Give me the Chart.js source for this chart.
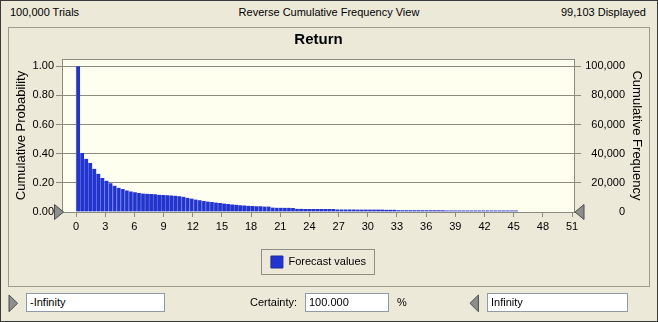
<!DOCTYPE html>
<html><head><meta charset="utf-8">
<script src="https://cdn.jsdelivr.net/npm/chart.js@4.4.1/dist/chart.umd.min.js"></script>
<style>
html,body{margin:0;padding:0;}
body{position:relative;width:658px;height:322px;overflow:hidden;background:#ECE9D8;font-family:"Liberation Sans",Arial,sans-serif;font-size:11px;color:#000;}
#frame{position:absolute;left:0;top:0;width:656px;height:320px;border:1px solid #3a3a3a;}
.t{position:absolute;font-size:11px;line-height:13px;white-space:nowrap;}
#panel{position:absolute;left:8px;top:27px;width:640px;height:258px;border:1px solid #9d9b90;}
#c{position:absolute;left:0;top:0;}
.box{position:absolute;top:293px;height:17px;background:#fff;border:1px solid #8f9aa6;font-size:11px;line-height:17px;padding-left:3px;box-sizing:content-box;}
svg{position:absolute;left:0;top:0;}
</style></head>
<body>
<div id="frame"></div>
<div class="t" style="left:10px;top:6px;">100,000 Trials</div>
<div class="t" style="left:0;width:658px;text-align:center;top:6px;">Reverse Cumulative Frequency View</div>
<div class="t" style="right:12px;top:6px;">99,103 Displayed</div>
<div id="panel"><canvas id="c" width="640" height="258"></canvas></div>
<svg width="658" height="322">
<polygon points="9,295 17.6,303.3 9,311.7" fill="#8e8e8e" stroke="#4a4a4a" stroke-width="1"/>
<polygon points="478.4,295 470,303.3 478.4,311.7" fill="#8e8e8e" stroke="#4a4a4a" stroke-width="1"/>
</svg>
<div class="box" style="left:26px;width:134px;">-Infinity</div>
<div class="t" style="left:250px;top:296px;">Certainty:</div>
<div class="box" style="left:305px;width:79px;">100.000</div>
<div class="t" style="left:397px;top:296px;">%</div>
<div class="box" style="left:487px;width:136px;">Infinity</div>
<script>
// ---- data ----
const TITLE = 'Return';
const SERIES_NAME = 'Forecast values';
const BIN_WIDTH = 50 / 120;           // width of each histogram bin (in Return units)
const TOTAL_TRIALS = 100000;
const probability = [
  1.000, 0.405, 0.365, 0.336, 0.296, 0.262, 0.234, 0.215, 0.198, 0.181,
  0.166, 0.157, 0.148, 0.141, 0.135, 0.130, 0.127, 0.125, 0.123, 0.121,
  0.118, 0.116, 0.115, 0.114, 0.112, 0.108, 0.104, 0.098, 0.092, 0.086,
  0.080, 0.076, 0.072, 0.068, 0.065, 0.062, 0.058, 0.055, 0.052, 0.049,
  0.047, 0.045, 0.043, 0.041, 0.040, 0.039, 0.038, 0.037, 0.031, 0.030,
  0.030, 0.029, 0.029, 0.028, 0.022, 0.022, 0.021, 0.021, 0.021, 0.021,
  0.020, 0.020, 0.020, 0.020, 0.018, 0.018, 0.018, 0.018, 0.018, 0.017,
  0.017, 0.017, 0.017, 0.017, 0.017, 0.017, 0.016, 0.016, 0.016, 0.012,
  0.012, 0.012, 0.012, 0.012, 0.012, 0.012, 0.012, 0.012, 0.012, 0.012,
  0.012, 0.011, 0.011, 0.011, 0.011, 0.011, 0.011, 0.011, 0.011, 0.011,
  0.011, 0.011, 0.011, 0.011, 0.011, 0.011, 0.011, 0.011, 0.011, 0.004,
  0.004, 0.004, 0.004, 0.004, 0.004, 0.004, 0.004, 0.004, 0.004, 0.000
];
const xTicks = [0, 3, 6, 9, 12, 15, 18, 21, 24, 27, 30, 33, 36, 39, 42, 45, 48, 51];
const probTicks = [0, 0.2, 0.4, 0.6, 0.8, 1.0];
const freqTicks = [0, 20000, 40000, 60000, 80000, 100000];

// ---- chart ----
const FONT = '"Liberation Sans", Arial, sans-serif';
const GRID = '#8c8c7e';
const points = probability.map((p, i) => ({x: (i + 0.5) * BIN_WIDTH, y: p}));

const decor = {
  id: 'decor',
  afterLayout(chart) {
    const a = chart.chartArea;
    if (chart.titleBlock) { chart.titleBlock.left = a.left; chart.titleBlock.right = a.right; }
    if (chart.legend) { chart.legend.left = a.left; chart.legend.right = a.right; }
  },
  beforeDraw(chart) {
    const {ctx, chartArea: a} = chart;
    ctx.save();
    ctx.fillStyle = '#FFFFF0';
    ctx.fillRect(a.left, a.top, a.right - a.left, a.bottom - a.top);
    ctx.restore();
  },
  afterDatasetsDraw(chart) {
    const {ctx, chartArea: a} = chart;
    ctx.save();
    ctx.strokeStyle = GRID; ctx.lineWidth = 1;
    ctx.strokeRect(Math.round(a.left) - 0.5, Math.round(a.top) + 0.5, Math.round(a.right - a.left) + 1, Math.round(a.bottom - a.top));
    ctx.restore();
  },
  afterDraw(chart) {
    const {ctx, chartArea: a} = chart;
    const y0 = chart.scales.y.getPixelForValue(0);
    ctx.save();
    ctx.fillStyle = '#8e8e8e'; ctx.strokeStyle = '#4a4a4a'; ctx.lineWidth = 1;
    ctx.beginPath(); ctx.moveTo(a.left - 8.5, y0 - 7.5); ctx.lineTo(a.left + 0.5, y0); ctx.lineTo(a.left - 8.5, y0 + 7.5); ctx.closePath(); ctx.fill(); ctx.stroke();
    ctx.beginPath(); ctx.moveTo(a.right + 10, y0 - 7.5); ctx.lineTo(a.right + 1, y0); ctx.lineTo(a.right + 10, y0 + 7.5); ctx.closePath(); ctx.fill(); ctx.stroke();
    const hb = chart.legend && chart.legend.legendHitBoxes && chart.legend.legendHitBoxes[0];
    if (hb) {
      ctx.strokeStyle = '#8f8d84';
      ctx.strokeRect(Math.round(hb.left - 10) + 0.5, Math.round(hb.top - 7) + 0.5, Math.round(hb.width + 18), 25);
    }
    ctx.restore();
  }
};

new Chart(document.getElementById('c'), {
  type: 'bar',
  data: {
    datasets: [{
      label: SERIES_NAME,
      data: points,
      backgroundColor: '#2134d2',
      borderColor: '#6470cf',
      borderWidth: {left: 1, top: 0, right: 0, bottom: 0},
      borderSkipped: false,
      barPercentage: 1,
      categoryPercentage: 1,
      yAxisID: 'y'
    }]
  },
  options: {
    responsive: false,
    animation: false,
    events: [],
    layout: {padding: {left: 0, right: 0, top: 0, bottom: 8}},
    plugins: {
      title: {display: true, text: TITLE, color: '#000', font: {family: FONT, size: 15, weight: 'bold'}, padding: {top: 3, bottom: 10}},
      legend: {
        display: true, position: 'bottom',
        labels: {
          color: '#000', font: {family: FONT, size: 11}, boxWidth: 12, boxHeight: 12, padding: 10,
          generateLabels: (chart) => chart.data.datasets.map((d, i) => ({
            text: d.label, fillStyle: d.backgroundColor, strokeStyle: '#1a2a9a', lineWidth: 1, datasetIndex: i
          }))
        }
      },
      tooltip: {enabled: false}
    },
    scales: {
      x: {
        type: 'linear', min: -1.34, max: 51.2, offset: false,
        afterBuildTicks: (s) => { s.ticks = xTicks.map(v => ({value: v})); },
        afterFit: (s) => { s.height = 34; },
        grid: {drawOnChartArea: false, drawTicks: true, tickLength: 5, color: GRID, offset: false},
        border: {display: false},
        ticks: {color: '#000', font: {family: FONT, size: 11}, padding: 3, maxRotation: 0, autoSkip: false, callback: v => String(v)}
      },
      y: {
        type: 'linear', position: 'left', min: 0, max: 1.05,
        afterBuildTicks: (s) => { s.ticks = probTicks.map(v => ({value: v})); },
        afterFit: (s) => { s.width = 54; },
        grid: {color: GRID, tickLength: 7, drawTicks: true},
        border: {display: false},
        ticks: {color: '#000', font: {family: FONT, size: 11}, padding: 2, callback: v => v.toFixed(2)},
        title: {display: true, text: 'Cumulative Probability', color: '#000', font: {family: FONT, size: 13}, padding: {top: 5, bottom: 0}}
      },
      y1: {
        type: 'linear', position: 'right', weight: 0, min: 0, max: 1.05 * TOTAL_TRIALS,
        afterBuildTicks: (s) => { s.ticks = freqTicks.map(v => ({value: v})); },
        afterFit: (s) => { s.width = 51; },
        grid: {drawOnChartArea: false, color: GRID, tickLength: 7},
        border: {display: false},
        ticks: {color: '#000', font: {family: FONT, size: 11}, padding: 4, crossAlign: 'far', callback: v => v.toLocaleString('en-US')}
      },
      y2: {
        type: 'linear', position: 'right', weight: 1, min: 0, max: 1.05 * TOTAL_TRIALS,
        afterFit: (s) => { s.width = 24; },
        grid: {display: false},
        border: {display: false},
        ticks: {display: false},
        title: {display: true, text: 'Cumulative Frequency', color: '#000', font: {family: FONT, size: 13}, padding: {top: 5, bottom: 0}}
      }
    }
  },
  plugins: [decor]
});
</script>
</body></html>
